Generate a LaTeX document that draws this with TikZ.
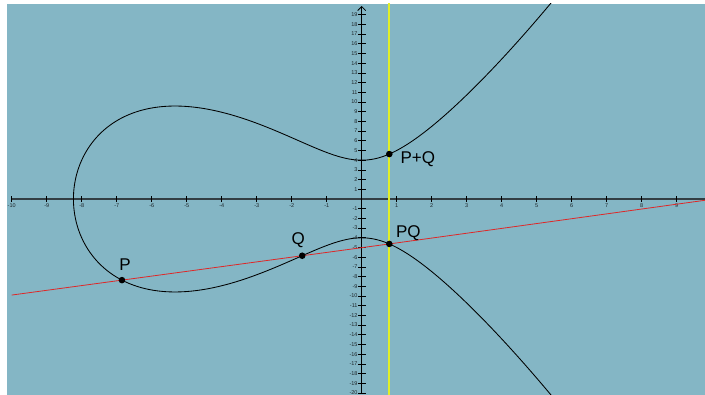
\documentclass[tikz,border=0pt]{standalone}
\usepackage{fontspec}
\setmainfont{Liberation Sans}
\usetikzlibrary{arrows.meta}
\definecolor{bg}{RGB}{132,182,197}
\definecolor{axisgray}{RGB}{50,62,68}
\definecolor{redline}{RGB}{222,40,40}
\definecolor{yel}{RGB}{226,240,40}
\definecolor{ticktext}{RGB}{30,38,42}
\tikzset{
  ticklab/.style={font=\fontsize{5.5}{5.5}\selectfont, text=ticktext, inner sep=0pt},
  tickmark/.style={line width=0.7pt, black},
  ptdot/.style={fill=black},
  ptlab/.style={font=\fontsize{17}{17}\selectfont, inner sep=0pt, text=black},
  curve/.style={line width=0.85pt, black},
}
\begin{document}
\begin{tikzpicture}[x=35pt,y=9.7pt]
\useasboundingbox (-361.7pt,-196pt) rectangle (343.3pt,199pt);
\fill[bg] (-354.7pt,-196pt) rectangle (343.3pt,195pt);
\begin{scope}
\clip (-354.7pt,-196pt) rectangle (343.3pt,195pt);
% coordinates
\coordinate (XL) at (-10,0);
\coordinate (XR) at (10.2,0);
\coordinate (YB) at (0,-20);
\coordinate (YT) at (0pt,193pt);
\coordinate (P) at (-6.85,-8.3643);
\coordinate (Q) at (-1.7,-5.8487);
\coordinate (PQ) at (0.7886,-4.6331);
\coordinate (PpQ) at (0.7886,4.6331);
\coordinate (RL) at (-10,-9.9032);
\coordinate (RR) at (10.2,0.0630);
\coordinate (VT) at (0.7886,21);
\coordinate (VB) at (0.7886,-21);
% x axis
\draw[axisgray, line width=1.5pt] (XL) -- (XR);
\foreach \i in {-10,-9,...,-1,1,2,...,10} {
  \draw[tickmark] (\i,0) ++(0,-3pt) -- ++(0,6pt);
  \node[ticklab] at (\i,0) [yshift=-7pt] {\i};
}
% y axis
\draw[black, line width=0.8pt, -{Straight Barb[length=4pt,width=8pt]}] (YB) -- (YT);
\foreach \j in {-20,-19,...,-1,1,2,...,19} {
  \draw[tickmark] (0,\j) ++(-3.5pt,0) -- ++(8pt,0);
  \node[ticklab, anchor=east] at (0,\j) [xshift=-4pt] {\j};
}
% vertical yellow line
\draw[yel, line width=2pt] (VB) -- (VT);
% curve y^2 = x^3 + 8x^2 + 16
\draw[curve] plot[domain=-3.75:3.75, samples=400, smooth, variable=\t]
  ({-8.2359+\t*\t}, {\t*sqrt((-8.2359+\t*\t)*(-8.2359+\t*\t) - 0.2359*(-8.2359+\t*\t) + 1.9428)});
% red line
\draw[redline, line width=0.8pt] (RL) -- (P) -- (Q) -- (PQ) -- (RR);
\end{scope}
% points
\fill[ptdot] (P) circle (3.3pt);
\fill[ptdot] (Q) circle (3.3pt);
\fill[ptdot] (PQ) circle (3.3pt);
\fill[ptdot] (PpQ) circle (3.3pt);
\node[ptlab, xshift=3pt, yshift=15pt] (lP) at (P) {P};
\node[ptlab, xshift=-4pt, yshift=16pt] (lQ) at (Q) {Q};
\node[ptlab, xshift=19pt, yshift=10.5pt] (lPQ) at (PQ) {PQ};
\node[ptlab, xshift=28.5pt, yshift=-5pt] (lPpQ) at (PpQ) {P+Q};
\end{tikzpicture}
\end{document}
